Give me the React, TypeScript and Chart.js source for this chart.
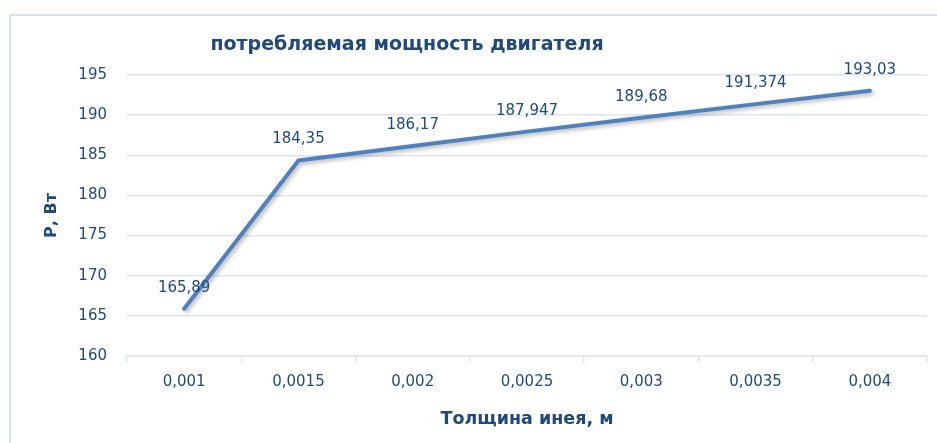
import React, { useEffect, useRef } from "react";
import { Chart, registerables } from "chart.js";

Chart.register(...registerables);

const categories = ["0,001", "0,0015", "0,002", "0,0025", "0,003", "0,0035", "0,004"];
const powerValues = [165.89, 184.35, 186.17, 187.947, 189.68, 191.374, 193.03];
const yMin = 160;
const yMax = 195;
const yStep = 5;
const chartTitle = "потребляемая мощность двигателя";
const xTitle = "Толщина инея, м";
const yTitle = "Р, Вт";

const TEXT = "#1F497D";
const GRID = "#DCE6F2";
const LINE = "#4F81BD";
const FRAME = "#D5E2F3";

const formatValue = (v: number) => String(v).replace(".", ",");

export default function App() {
  const ref = useRef<HTMLCanvasElement | null>(null);

  useEffect(() => {
    if (!ref.current) return;

    const framePlugin = {
      id: "frame",
      beforeDraw(chart: any) {
        const { ctx, width, height } = chart;
        ctx.save();
        ctx.fillStyle = "#FFFFFF";
        ctx.fillRect(0, 0, width, height);
        ctx.strokeStyle = FRAME;
        ctx.lineWidth = 2;
        ctx.beginPath();
        ctx.moveTo(10, height);
        ctx.lineTo(10, 15);
        ctx.lineTo(width, 15);
        ctx.stroke();
        ctx.restore();
      },
    };

    const shadowPlugin = {
      id: "lineShadow",
      beforeDatasetsDraw(chart: any) {
        const ctx = chart.ctx;
        ctx.save();
        ctx.shadowColor = "rgba(0,0,0,0.3)";
        ctx.shadowBlur = 4;
        ctx.shadowOffsetX = 2;
        ctx.shadowOffsetY = 2;
      },
      afterDatasetsDraw(chart: any) {
        chart.ctx.restore();
      },
    };

    const labelsPlugin = {
      id: "valueLabels",
      afterDraw(chart: any) {
        const { ctx } = chart;
        const meta = chart.getDatasetMeta(0);
        ctx.save();
        ctx.font = "15px 'DejaVu Sans'";
        ctx.fillStyle = TEXT;
        ctx.textAlign = "center";
        ctx.textBaseline = "middle";
        meta.data.forEach((pt: any, i: number) => {
          ctx.fillText(formatValue(powerValues[i]), pt.x, pt.y - 21);
        });
        // chart title
        ctx.font = "bold 19px 'DejaVu Sans'";
        ctx.fillText(chartTitle, 407, 45);
        ctx.restore();
      },
    };

    const chart = new Chart(ref.current, {
      type: "line",
      data: {
        labels: categories,
        datasets: [
          {
            data: powerValues,
            borderColor: LINE,
            borderWidth: 4,
            borderCapStyle: "round",
            borderJoinStyle: "round",
            pointRadius: 0,
            tension: 0,
            fill: false,
          },
        ],
      },
      options: {
        animation: false,
        responsive: true,
        maintainAspectRatio: false,
        layout: { padding: { left: 0, right: 10, top: 75, bottom: 0 } },
        plugins: {
          legend: { display: false },
          title: { display: false },
          tooltip: { enabled: false },
        },
        scales: {
          x: {
            type: "category",
            offset: true,
            afterFit(scale: any) {
              scale.height = 87;
            },
            grid: {
              offset: true,
              drawOnChartArea: false,
              drawTicks: true,
              tickLength: 6,
              color: GRID,
              lineWidth: 1.5,
            },
            border: { display: true, color: GRID, width: 1.5 },
            ticks: {
              color: TEXT,
              font: { family: "'DejaVu Sans'", size: 15 },
              padding: 11,
              maxRotation: 0,
            },
            title: {
              display: true,
              text: xTitle,
              color: TEXT,
              font: { family: "'DejaVu Sans'", size: 17.5, weight: "bold" },
              padding: { top: 0, bottom: 13 },
            },
          },
          y: {
            min: yMin,
            max: yMax,
            afterFit(scale: any) {
              scale.width = 127;
            },
            grid: {
              color: GRID,
              lineWidth: 1.5,
              drawTicks: false,
            },
            border: { display: false },
            ticks: {
              stepSize: yStep,
              color: TEXT,
              font: { family: "'DejaVu Sans'", size: 15 },
              padding: 20,
            },
            title: {
              display: true,
              text: yTitle,
              color: TEXT,
              font: { family: "'DejaVu Sans'", size: 16, weight: "bold" },
              padding: { top: 42, bottom: 0 },
            },
          },
        },
      },
      plugins: [framePlugin, shadowPlugin, labelsPlugin],
    } as any);

    return () => chart.destroy();
  }, []);

  return (
    <div style={{ position: "absolute", left: 0, top: 0, width: 937, height: 443, background: "#fff" }}>
      <canvas ref={ref} />
    </div>
  );
}
